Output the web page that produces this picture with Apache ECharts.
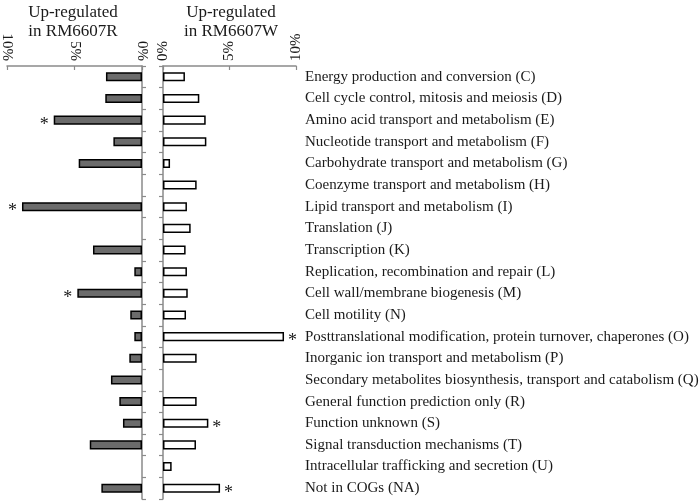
<!DOCTYPE html>
<html>
<head>
<meta charset="utf-8">
<script src="https://cdn.jsdelivr.net/npm/echarts@6/dist/echarts.min.js"></script>
<style>
html,body{margin:0;padding:0;background:#fff;}
#chart{width:700px;height:503px;}
</style>
</head>
<body>
<div id="chart"></div>
<script>
var categories = [
  'Energy production and conversion (C)',
  'Cell cycle control, mitosis and meiosis (D)',
  'Amino acid transport and metabolism (E)',
  'Nucleotide transport and metabolism (F)',
  'Carbohydrate transport and metabolism (G)',
  'Coenzyme transport and metabolism (H)',
  'Lipid transport and metabolism (I)',
  'Translation (J)',
  'Transcription (K)',
  'Replication, recombination and repair (L)',
  'Cell wall/membrane biogenesis (M)',
  'Cell motility (N)',
  'Posttranslational modification, protein turnover, chaperones (O)',
  'Inorganic ion transport and metabolism (P)',
  'Secondary metabolites biosynthesis, transport and catabolism (Q)',
  'General function prediction only (R)',
  'Function unknown (S)',
  'Signal transduction mechanisms (T)',
  'Intracellular trafficking and secretion (U)',
  'Not in COGs (NA)'
];
var valuesR = [2.67, 2.72, 6.54, 2.12, 4.69, 0, 8.89, 0, 3.63, 0.57, 4.79, 0.87, 0.57, 0.94, 2.30, 1.68, 1.41, 3.87, 0, 3.01];
var valuesW = [1.65, 2.73, 3.21, 3.26, 0.53, 2.53, 1.80, 2.08, 1.70, 1.80, 1.86, 1.73, 9.10, 2.53, 0, 2.53, 3.41, 2.48, 0.65, 4.29];
var sigR = [0,0,1,0,0,0,1,0,0,0,1,0,0,0,0,0,0,0,0,0];
var sigW = [0,0,0,0,0,0,0,0,0,0,0,0,1,0,0,0,1,0,0,1];
var xTicks = [0, 5, 10];
var titleR = 'Up-regulated\nin RM6607R';
var titleW = 'Up-regulated\nin RM6607W';

var FONT = '"Liberation Serif", "DejaVu Serif", serif';
var AXIS_COLOR = '#8a8a8a';
var TEXT_COLOR = '#1a1a1a';

function toData(vals, sig) {
  return vals.map(function (v, i) {
    return { value: v === 0 ? null : v, sig: sig[i] };
  });
}

var chart = echarts.init(document.getElementById('chart'), null, { renderer: 'canvas' });

var xAxisCommon = {
  type: 'value', min: xTicks[0], max: xTicks[xTicks.length - 1], interval: 5,
  position: 'top',
  axisLine: { show: true, lineStyle: { color: AXIS_COLOR, width: 1.5 } },
  axisTick: { show: true, inside: true, length: 4, lineStyle: { color: AXIS_COLOR, width: 1.2 } },
  splitLine: { show: false },
  axisLabel: { fontFamily: FONT, fontSize: 15, color: TEXT_COLOR, margin: 5, formatter: '{value}%' }
};

var titleStyle = { fontFamily: FONT, fontSize: 17, fontWeight: 'normal', color: TEXT_COLOR, lineHeight: 19 };

var option = {
  animation: false,
  backgroundColor: '#fff',
  title: [
    { text: titleR, left: 68, top: -2, textAlign: 'center', textStyle: titleStyle },
    { text: titleW, left: 226, top: -2, textAlign: 'center', textStyle: titleStyle }
  ],
  grid: [
    { left: 7, right: 558, top: 66, bottom: 4, containLabel: false, outerBoundsMode: 'none' },
    { left: 163, right: 404, top: 66, bottom: 4, containLabel: false, outerBoundsMode: 'none' }
  ],
  xAxis: [
    Object.assign({}, xAxisCommon, { gridIndex: 0, inverse: true,
      axisLabel: Object.assign({}, xAxisCommon.axisLabel, { rotate: 90, padding: [0, 0, 6, 0] }) }),
    Object.assign({}, xAxisCommon, { gridIndex: 1,
      axisLabel: Object.assign({}, xAxisCommon.axisLabel, { rotate: -90, padding: [0, 0, 2, 0] }) })
  ],
  yAxis: [
    { type: 'category', gridIndex: 0, data: categories, inverse: true, position: 'right',
      axisLine: { show: true, lineStyle: { color: AXIS_COLOR, width: 1.5 } },
      axisTick: { show: true, length: 4, lineStyle: { color: AXIS_COLOR, width: 1.2 } },
      axisLabel: { show: false }, splitLine: { show: false } },
    { type: 'category', gridIndex: 1, data: categories, inverse: true, position: 'left',
      axisLine: { show: true, lineStyle: { color: AXIS_COLOR, width: 1.5 } },
      axisTick: { show: true, length: 4, lineStyle: { color: AXIS_COLOR, width: 1.2 } },
      axisLabel: { show: false }, splitLine: { show: false } },
    { type: 'category', gridIndex: 1, data: categories, inverse: true, position: 'right',
      axisLine: { show: false }, axisTick: { show: false }, splitLine: { show: false },
      axisLabel: { show: true, fontFamily: FONT, fontSize: 15, color: TEXT_COLOR, margin: 9, align: 'left' } }
  ],
  series: [
    { type: 'bar', xAxisIndex: 0, yAxisIndex: 0, barWidth: '42%',
      data: toData(valuesR, sigR),
      itemStyle: { color: '#6b6b6b', borderColor: '#000', borderWidth: 1.5 },
      label: { show: true, position: 'left', distance: 5,
        formatter: function (p) { return p.data.sig ? '*' : ''; },
        fontFamily: FONT, fontSize: 18, color: TEXT_COLOR, offset: [0, 5] } },
    { type: 'bar', xAxisIndex: 1, yAxisIndex: 1, barWidth: '42%',
      data: toData(valuesW, sigW),
      itemStyle: { color: '#fff', borderColor: '#000', borderWidth: 1.5 },
      label: { show: true, position: 'right', distance: 4,
        formatter: function (p) { return p.data.sig ? '*' : ''; },
        fontFamily: FONT, fontSize: 18, color: TEXT_COLOR, offset: [0, 5] } }
  ]
};
chart.setOption(option);
</script>
</body>
</html>
